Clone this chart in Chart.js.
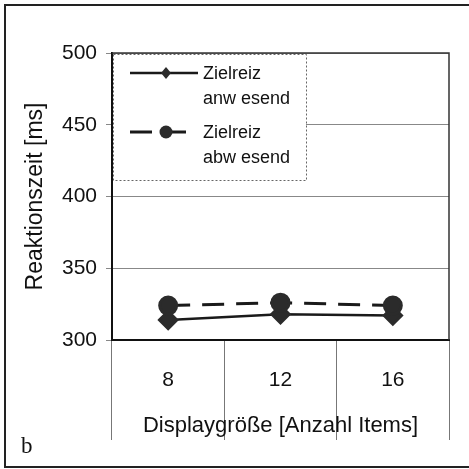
<!DOCTYPE html>
<html>
<head>
<meta charset="utf-8">
<script src="https://cdn.jsdelivr.net/npm/chart.js@4/dist/chart.umd.min.js"></script>
<style>
  html, body { margin: 0; padding: 0; background: #fff; overflow: hidden; }
  #wrap { position: relative; width: 469px; height: 469px; }
  #frame { position: absolute; left: 4px; top: 4px; width: 480px; height: 460px;
           border: 2px solid #222; border-right: none; }
  #panel { position: absolute; left: 21px; top: 433px; font-family: "Liberation Serif", "Times New Roman", serif;
           font-size: 23px; color: #111; }
  canvas { position: absolute; left: 0; top: 0; }
</style>
</head>
<body>
<div id="wrap">
  <canvas id="rtChart" width="469" height="469"></canvas>
  <div id="frame"></div>
  <div id="panel">b</div>
</div>
<script>
// Displaygröße (categories)
const displaySizes = ['8', '12', '16'];
// Reaktionszeiten in ms
const targetPresent = [314, 318, 317];
const targetAbsent = [324, 326, 324];
// legend text, two lines each
const presentLabel = ['Zielreiz', 'anw esend'];
const absentLabel = ['Zielreiz', 'abw esend'];
// y axis range
const yMin = 300;
const yMax = 500;
const yStep = 50;

const FONT = '"Liberation Sans", Arial, sans-serif';

// top and right edge of the plot area
const plotFrame = {
    id: 'plotFrame',
    beforeDatasetsDraw(chart) {
        const { ctx, chartArea: a } = chart;
        ctx.save();
        ctx.strokeStyle = '#333';
        ctx.lineWidth = 1.5;
        ctx.beginPath();
        ctx.moveTo(a.left, a.top);
        ctx.lineTo(a.right, a.top);
        ctx.lineTo(a.right, a.bottom);
        ctx.stroke();
        ctx.restore();
    }
};

// boxed legend in the upper left corner of the plot
const boxLegend = {
    id: 'boxLegend',
    afterDatasetsDraw(chart) {
        const { ctx, chartArea: a } = chart;
        const x0 = a.left + 1, y0 = a.top + 1;
        ctx.save();
        ctx.fillStyle = '#fff';
        ctx.fillRect(x0, y0, 193, 126);
        ctx.strokeStyle = '#666';
        ctx.lineWidth = 1;
        ctx.setLineDash([2, 2]);
        ctx.strokeRect(x0 + 0.5, y0 + 0.5, 193, 126);

        const rows = [
            { ds: chart.data.datasets[0], y: y0 + 19, end: 85 },
            { ds: chart.data.datasets[1], y: y0 + 78, end: 78 }
        ];
        rows.forEach(r => {
            const ds = r.ds;
            ctx.setLineDash(ds.borderDash || []);
            ctx.strokeStyle = ds.borderColor;
            ctx.lineWidth = ds.borderWidth;
            ctx.beginPath();
            ctx.moveTo(x0 + 17, r.y);
            ctx.lineTo(x0 + r.end, r.y);
            ctx.stroke();
            ctx.setLineDash([]);
            ctx.fillStyle = ds.pointBackgroundColor;
            const mx = x0 + 53;
            ctx.beginPath();
            if (ds.pointStyle === 'rectRot') {
                ctx.moveTo(mx, r.y - 6);
                ctx.lineTo(mx + 5, r.y);
                ctx.lineTo(mx, r.y + 6);
                ctx.lineTo(mx - 5, r.y);
                ctx.closePath();
            } else {
                ctx.arc(mx, r.y, 6.5, 0, Math.PI * 2);
            }
            ctx.fill();
            ctx.fillStyle = '#111';
            ctx.font = '18px ' + FONT;
            ctx.textBaseline = 'middle';
            ctx.textAlign = 'left';
            ds.label.forEach((t, i) => ctx.fillText(t, x0 + 90, r.y + 1 + i * 25));
        });
        ctx.restore();
    }
};

const ctx = document.getElementById('rtChart').getContext('2d');
new Chart(ctx, {
    type: 'line',
    data: {
        labels: displaySizes,
        datasets: [{
            label: presentLabel,
            data: targetPresent,
            borderColor: '#1a1a1a',
            borderWidth: 2.5,
            pointStyle: 'rectRot',
            pointRadius: 9,
            pointBackgroundColor: '#2b2b2b',
            pointBorderColor: '#2b2b2b',
            tension: 0,
            order: 1
        }, {
            label: absentLabel,
            data: targetAbsent,
            borderColor: '#1a1a1a',
            borderWidth: 3,
            borderDash: [22, 12],
            pointStyle: 'circle',
            pointRadius: 8.5,
            pointBackgroundColor: '#2b2b2b',
            pointBorderColor: '#2b2b2b',
            tension: 0,
            order: 0
        }]
    },
    options: {
        responsive: false,
        animation: false,
        layout: { padding: { left: 0, right: 20, top: 53, bottom: 0 } },
        plugins: {
            legend: { display: false },
            tooltip: { enabled: false }
        },
        scales: {
            x: {
                offset: true,
                afterFit: s => { s.height = 129; },
                grid: {
                    offset: true,
                    drawOnChartArea: false,
                    tickLength: 100,
                    color: '#777',
                    lineWidth: 1
                },
                border: { color: '#111', width: 2 },
                ticks: {
                    padding: -72,
                    color: '#111',
                    font: { family: FONT, size: 21 }
                },
                title: {
                    display: true,
                    text: 'Displaygröße [Anzahl Items]',
                    color: '#111',
                    padding: { top: 0, bottom: 30 },
                    font: { family: FONT, size: 22 }
                }
            },
            y: {
                min: yMin,
                max: yMax,
                afterFit: s => { s.width = 112; },
                grid: { color: '#888', lineWidth: 1, tickLength: 6 },
                border: { color: '#111', width: 2 },
                ticks: {
                    stepSize: yStep,
                    padding: 9,
                    color: '#111',
                    font: { family: FONT, size: 21 }
                },
                title: {
                    display: true,
                    text: 'Reaktionszeit [ms]',
                    color: '#111',
                    padding: { top: 22, bottom: 0 },
                    font: { family: FONT, size: 23 }
                }
            }
        }
    },
    plugins: [plotFrame, boxLegend]
});
</script>
</body>
</html>
